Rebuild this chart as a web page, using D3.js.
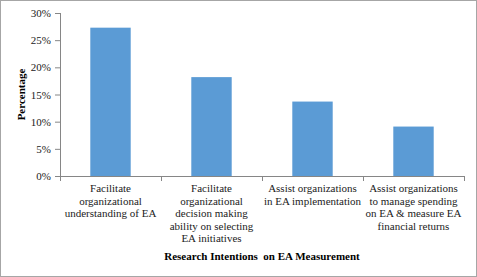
<!DOCTYPE html>
<html><head><meta charset="utf-8">
<script src="https://cdn.jsdelivr.net/npm/d3@7"></script>
<style>html,body{margin:0;padding:0;background:#fff} text{font-family:"Liberation Serif","Times New Roman",serif;}</style>
</head><body>
<script>
const categories = [
  ["Facilitate","organizational","understanding of EA"],
  ["Facilitate","organizational","decision making","ability on selecting","EA initiatives"],
  ["Assist organizations","in EA implementation"],
  ["Assist organizations","to manage spending","on EA & measure EA","financial returns"]
];
const values = [27.3, 18.2, 13.7, 9.1];
const yTicks = [0,5,10,15,20,25,30];
const xTitle = "Research Intentions  on EA Measurement";
const yTitle = "Percentage";

(function(){
const W = 477, H = 277;
const svg = d3.select("body").append("svg").attr("width", W).attr("height", H);
svg.append("rect").attr("x",0.5).attr("y",0.5).attr("width",W-1).attr("height",H-1)
  .attr("fill","#fff").attr("stroke","#a6a6a6");

const mL = 60, mR = 464, mT = 13, mB = 176;
const x = d3.scaleBand().domain(d3.range(values.length)).range([mL,mR]).paddingInner(0.6).paddingOuter(0.3);
const y = d3.scaleLinear().domain([0,30]).range([mB, mT]);
const fs = "11px";

svg.selectAll("rect.bar").data(values).join("rect").attr("class","bar")
  .attr("x",(d,i)=>x(i)).attr("width",x.bandwidth())
  .attr("y",d=>y(d)).attr("height",d=>mB-y(d)).attr("fill","#5b9bd5");

// y axis
const ya = svg.append("g").attr("transform",`translate(${mL},0)`)
  .call(d3.axisLeft(y).tickValues(yTicks).tickFormat(d=>d+"%").tickSize(5).tickPadding(4));
ya.attr("font-family",null);
ya.select(".domain").attr("stroke","#868686").attr("d",`M0.5,${mT}V${mB}`);
ya.selectAll(".tick line").attr("stroke","#868686");
ya.selectAll(".tick text").attr("font-size",fs).attr("fill","#222");

// x axis line and boundary ticks
const step = (mR-mL)/values.length;
svg.append("line").attr("x1",mL).attr("x2",mR).attr("y1",mB+0.5).attr("y2",mB+0.5).attr("stroke","#868686");
svg.selectAll("line.bt").data(d3.range(values.length+1)).join("line").attr("class","bt")
  .attr("x1",i=>Math.round(mL+i*step)+0.5).attr("x2",i=>Math.round(mL+i*step)+0.5)
  .attr("y1",mB).attr("y2",mB+5).attr("stroke","#868686");

// category labels
const lab = svg.selectAll("text.cat").data(categories).join("text").attr("class","cat")
  .attr("font-size",fs).attr("fill","#222").attr("text-anchor","middle");
lab.each(function(lines,i){
  d3.select(this).selectAll("tspan").data(lines).join("tspan")
    .attr("x", x(i)+x.bandwidth()/2).attr("y",(d,j)=>192+j*12.5).text(d=>d);
});

svg.append("text").attr("x",(mL+mR)/2).attr("y",260).attr("text-anchor","middle")
  .attr("font-size",fs).attr("font-weight","bold")
  .style("white-space","pre").text(xTitle);
svg.append("text").attr("transform",`translate(21,${(mT+mB)/2}) rotate(-90)`).attr("dy","0.35em")
  .attr("text-anchor","middle").attr("font-size",fs).attr("font-weight","bold")
  .text(yTitle);
})();
</script>
</body></html>
